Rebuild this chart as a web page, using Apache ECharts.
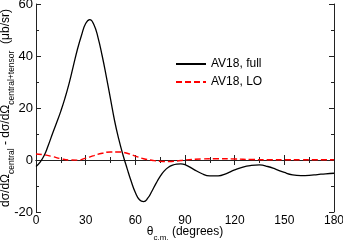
<!DOCTYPE html>
<html>
<head>
<meta charset="utf-8">
<script src="https://cdn.jsdelivr.net/npm/echarts@6/dist/echarts.min.js"></script>
<style>
  html, body {margin: 0; padding: 0; background: #fff;}
  #main {width: 343px; height: 240px;}
</style>
</head>
<body>
<div id="main"></div>
<script>
// angle (deg) and difference of cross sections (ub/sr)
var fullAngle = [0, 2.5, 5, 7.5, 10, 12.5, 15, 17.5, 20, 22.5, 25, 27.5, 30, 32.5, 35, 37.5, 40, 42.5, 45, 47.5, 50, 52.5, 55, 57.5, 60, 62.5, 65, 67.5, 70, 72.5, 75, 77.5, 80, 82.5, 85, 87.5, 90, 95, 100, 105, 110, 115, 120, 125, 130, 135, 140, 145, 150, 155, 160, 165, 170, 175, 180];
var fullValue = [-2.5, -0.8, 1.8, 5.8, 10.2, 14.4, 18.8, 23.8, 29.5, 36, 42.5, 48, 52.5, 54, 52, 47, 40, 32, 23.5, 15, 8, 2, -3.2, -8.2, -12.5, -15.3, -16, -14.7, -12, -9, -6.3, -4.2, -2.8, -2, -1.6, -1.5, -1.8, -3.5, -5.2, -6.1, -6.1, -5.2, -3.8, -2.7, -2.1, -1.9, -2.5, -3.6, -4.8, -5.7, -6.0, -5.9, -5.6, -5.3, -5.1];
var loAngle = [0, 5, 10, 15, 20, 25, 30, 35, 40, 45, 50, 55, 60, 65, 70, 75, 80, 85, 90, 100, 110, 120, 130, 140, 150, 160, 170, 180];
var loValue = [2.3, 2.0, 1.3, 0.5, 0.0, -0.05, 0.7, 1.7, 2.6, 3.1, 3.1, 2.6, 1.5, 0.5, -0.1, -0.5, -0.6, -0.4, 0.0, 0.4, 0.5, 0.4, 0.2, 0.1, 0.1, 0.1, 0.1, 0.1];

function pairs(xs, ys) {
    return xs.map(function (x, i) { return [x, ys[i]]; });
}

var chart = echarts.init(document.getElementById('main'));
var font = 'Liberation Sans, Arial, sans-serif';
var axisCol = '#222';

var option = {
    animation: false,
    backgroundColor: '#fff',
    textStyle: {fontFamily: font},
    grid: {left: 36, right: 9, top: 4, bottom: 28, containLabel: false, outerBoundsMode: 'none'},
    legend: {
        orient: 'vertical',
        left: 170,
        top: 53,
        itemWidth: 30,
        itemHeight: 10,
        itemGap: 6,
        itemStyle: {opacity: 0},
        textStyle: {fontSize: 12, color: '#000', fontFamily: font},
        data: ['AV18, full', 'AV18, LO']
    },
    xAxis: [{
        type: 'value', min: 0, max: 180, interval: 30,
        position: 'bottom',
        name: '{m|θ}{s|c.m.}{m| (degrees)}',
        nameLocation: 'middle', nameGap: 12, nameMoveOverlap: false,
        nameTextStyle: {
            rich: {
                m: {fontSize: 12, color: '#000', fontFamily: font, lineHeight: 14, verticalAlign: 'bottom'},
                s: {fontSize: 8, color: '#000', fontFamily: font, lineHeight: 14, verticalAlign: 'bottom', padding: [0, 0, -4, 0]}
            }
        },
        axisLine: {lineStyle: {color: axisCol}},
        axisTick: {inside: true, length: 5, lineStyle: {color: axisCol}},
        minorTick: {show: true, splitNumber: 2, length: 3, lineStyle: {color: axisCol}},
        axisLabel: {fontSize: 12, color: '#000', margin: 3},
        splitLine: {show: false}
    }, {
        type: 'value', min: 0, max: 180, interval: 30,
        position: 'top',
        axisLine: {lineStyle: {color: axisCol}},
        axisTick: {inside: true, length: 5, lineStyle: {color: axisCol}},
        minorTick: {show: true, splitNumber: 2, length: 3, lineStyle: {color: axisCol}},
        axisLabel: {show: false},
        splitLine: {show: false}
    }],
    yAxis: [{
        type: 'value', min: -20, max: 60, interval: 20,
        position: 'left',
        name: '{m|dσ/dΩ}{s|central}{m| - dσ/dΩ}{s|central+tensor}{m|  (μb/sr)}',
        nameLocation: 'middle', nameRotate: 90, nameGap: 24, nameMoveOverlap: false,
        nameTextStyle: {
            rich: {
                m: {fontSize: 12, color: '#000', fontFamily: font, lineHeight: 14, verticalAlign: 'bottom'},
                s: {fontSize: 8.5, color: '#000', fontFamily: font, lineHeight: 14, verticalAlign: 'bottom', padding: [0, 0, -4, 0]}
            }
        },
        axisLine: {onZero: false, lineStyle: {color: axisCol}},
        axisTick: {inside: true, length: 5, lineStyle: {color: axisCol}},
        minorTick: {show: true, splitNumber: 2, length: 3, lineStyle: {color: axisCol}},
        axisLabel: {fontSize: 13, color: '#000', margin: 3},
        splitLine: {show: false}
    }, {
        type: 'value', min: -20, max: 60, interval: 20,
        position: 'right',
        axisLine: {show: true, onZero: false, lineStyle: {color: axisCol}},
        axisTick: {inside: true, length: 5, lineStyle: {color: axisCol}},
        minorTick: {show: true, splitNumber: 2, length: 3, lineStyle: {color: axisCol}},
        axisLabel: {show: false},
        splitLine: {show: false}
    }],
    series: [{
        name: 'AV18, full',
        type: 'line',
        smooth: true,
        symbol: 'none',
        lineStyle: {color: '#000', width: 1.3},
        itemStyle: {color: '#000'},
        data: pairs(fullAngle, fullValue)
    }, {
        name: 'AV18, LO',
        type: 'line',
        smooth: true,
        symbol: 'none',
        lineStyle: {color: '#ff0000', width: 1.4, type: [6, 3]},
        itemStyle: {color: '#ff0000'},
        data: pairs(loAngle, loValue)
    }]
};

chart.setOption(option);
</script>
</body>
</html>
